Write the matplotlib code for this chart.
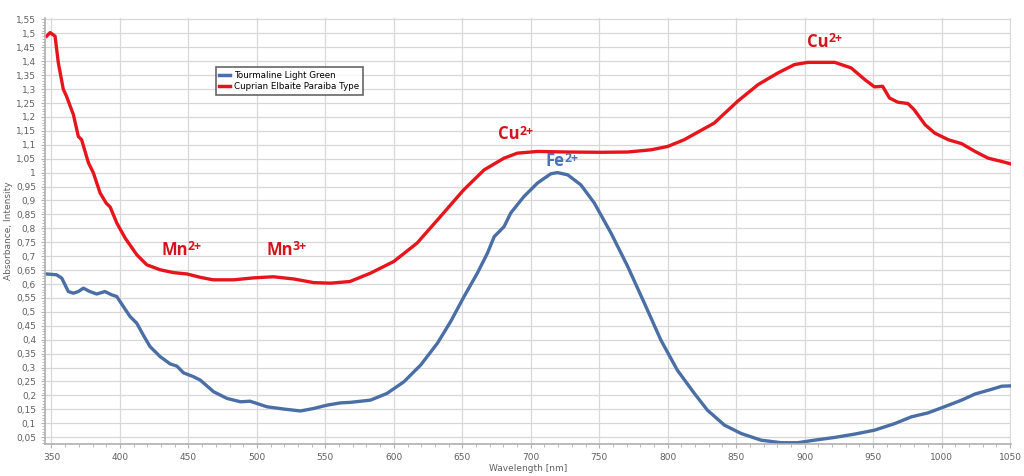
import matplotlib
matplotlib.use("Agg")
import matplotlib.pyplot as plt
from matplotlib.ticker import MultipleLocator, FuncFormatter

# Tourmaline Light Green (blue)
blue_x = [346.5, 353.8, 357.5, 362.3, 366, 369.6, 373.3, 378, 383, 389, 394, 397.7,
          402.5, 407.4, 412.3, 417, 422, 429.4, 436.7, 441.6, 446.4, 453.7, 458.6,
          468.4, 478.2, 488, 495, 500, 507.4, 519.6, 531.8, 541.5, 551.3, 561, 568.4,
          583, 595, 607.4, 619.6, 631.8, 641.5, 651.3, 661, 668.4, 673.3, 680.5, 685.4,
          695, 705, 714.7, 719.6, 727, 736.6, 746.4, 758.6, 770.8, 783, 795, 807, 819.5,
          829, 841.5, 853.7, 868.3, 882.9, 895, 907, 922, 936.6, 951, 966, 978, 990,
          1002, 1014.7, 1024.5, 1036.7, 1044, 1050]
blue_y = [0.636, 0.633, 0.621, 0.573, 0.567, 0.573, 0.585, 0.573, 0.564, 0.573, 0.561, 0.555,
          0.519, 0.483, 0.459, 0.417, 0.375, 0.339, 0.313, 0.305, 0.281, 0.267, 0.255,
          0.213, 0.189, 0.177, 0.179, 0.171, 0.159, 0.151, 0.144, 0.153, 0.165, 0.173, 0.175,
          0.183, 0.207, 0.249, 0.309, 0.387, 0.465, 0.555, 0.639, 0.711, 0.770, 0.806, 0.855,
          0.914, 0.963, 0.996, 1.0, 0.992, 0.956, 0.891, 0.783, 0.663, 0.531, 0.399, 0.291, 0.207,
          0.147, 0.093, 0.063, 0.039, 0.030, 0.030, 0.039, 0.049, 0.061, 0.075, 0.099, 0.123, 0.137,
          0.159, 0.183, 0.205, 0.222, 0.233, 0.234]

# Cuprian Elbaite Paraiba Type (red)
red_x = [346.5, 349, 352.6, 355, 358.6, 361, 366, 369.6, 372, 377, 380.6, 385.5, 390,
         392.8, 397.7, 403.8, 412.3, 419.6, 429.4, 439, 449, 458.6, 468, 483, 497.6,
         512, 527, 541.5, 553.7, 568, 583, 600, 617, 634, 651, 666, 680.5, 690.3, 705,
         727, 751, 770.8, 788, 800, 812, 823, 834, 851, 866, 880.5, 892.6, 902.4, 922,
         934, 944, 951, 957, 962, 968, 975.5, 980, 988, 995, 1005, 1014.7, 1024.5, 1034,
         1044, 1050]
red_y = [1.49, 1.503, 1.49, 1.394, 1.30, 1.274, 1.208, 1.13, 1.118, 1.035, 0.999, 0.927, 0.89,
         0.877, 0.819, 0.765, 0.705, 0.669, 0.651, 0.641, 0.636, 0.624, 0.615, 0.615, 0.622,
         0.626, 0.618, 0.605, 0.603, 0.609, 0.639, 0.681, 0.747, 0.842, 0.938, 1.01, 1.052, 1.07, 1.076,
         1.074, 1.073, 1.074, 1.082, 1.094, 1.118, 1.148, 1.178, 1.256, 1.316, 1.358, 1.388, 1.396, 1.396,
         1.376, 1.334, 1.308, 1.31, 1.268, 1.253, 1.248, 1.226, 1.172, 1.142, 1.118, 1.104, 1.076, 1.052,
         1.04, 1.032]

labels = ["Tourmaline Light Green", "Cuprian Elbaite Paraiba Type"]
ion_names = ["Mn", "Mn", "Cu", "Fe", "Cu"]
ion_charges = ["2+", "3+", "2+", "2+", "2+"]
ion_x = [440, 517, 684, 718, 910]
ion_y = [0.723, 0.723, 1.138, 1.04, 1.47]

BLUE = "#4a6ea6"
RED = "#e8141c"
ion_colors = ["#d4131b", "#d4131b", "#d4131b", "#4a72b8", "#d4131b"]

fig = plt.figure(figsize=(10.24, 4.76), dpi=100)
ax = fig.add_axes([0.044, 0.067, 0.943, 0.895])

ax.plot(blue_x, blue_y, color=BLUE, lw=2.4, label=labels[0], solid_joinstyle="round")
ax.plot(red_x, red_y, color=RED, lw=2.4, label=labels[1], solid_joinstyle="round")

# ion labels: element symbol plus a smaller raised charge
for name, chg, x, y, c in zip(ion_names, ion_charges, ion_x, ion_y, ion_colors):
    t = ax.text(x, y, name, color=c, fontsize=12, fontweight="bold", family="Open Sans",
                ha="center", va="center")
    ax.annotate(chg, xy=(0.98, 0.66), xycoords=t, color=c, fontsize=8.8,
                fontweight="bold", family="Open Sans", ha="left", va="center")

ax.set_xlim(345.3, 1050.5)
ax.set_ylim(0.025, 1.555)
ax.xaxis.set_major_locator(MultipleLocator(50))
ax.xaxis.set_minor_locator(MultipleLocator(10))
ax.yaxis.set_major_locator(MultipleLocator(0.05))
ax.yaxis.set_minor_locator(MultipleLocator(0.01))
ax.yaxis.set_major_formatter(FuncFormatter(lambda v, p: ("%g" % round(v, 2)).replace(".", ",")))

ax.grid(True, which="major", color="#d8d8d8", lw=0.9)
ax.set_axisbelow(True)
for side in ["top", "right"]:
    ax.spines[side].set_visible(False)
for side in ["left", "bottom"]:
    ax.spines[side].set_color("#b0b0b0")
    ax.spines[side].set_linewidth(1.2)
ax.tick_params(which="both", colors="#b0b0b0", labelcolor="#606060", labelsize=6.5)
ax.tick_params(which="major", length=3)
ax.tick_params(which="minor", length=2)

ax.set_xlabel("Wavelength [nm]", fontsize=6.5, color="#606060", labelpad=1)
ax.set_ylabel("Absorbance, Intensity", fontsize=6.5, color="#606060", labelpad=2)

leg = ax.legend(loc="upper left", bbox_to_anchor=(0.172, 0.895), fontsize=6.3,
                frameon=True, fancybox=False, shadow=False, borderpad=0.4,
                handlelength=1.3, handletextpad=0.4, labelspacing=0.3)
leg.get_frame().set_edgecolor("#404040")
leg.get_frame().set_linewidth(1.2)
for line in leg.get_lines():
    line.set_linewidth(2.5)

fig.savefig("out.png", dpi=100)
